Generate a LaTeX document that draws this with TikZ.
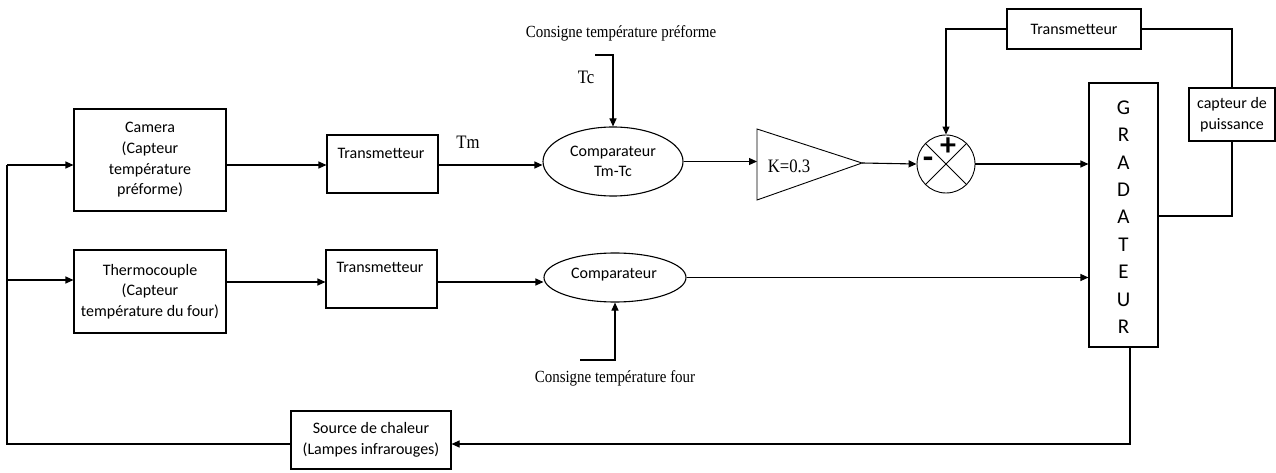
\documentclass[tikz,border=0pt]{standalone}
\usepackage{fontspec}
\setmainfont{Carlito}
\newfontfamily\serif[FakeStretch=0.88]{Liberation Serif}
\usetikzlibrary{shapes.geometric,arrows.meta,calc}
\begin{document}
\begin{tikzpicture}[x=1pt,y=-1pt,line width=1.1pt,
  >={Triangle[length=8pt,width=7pt]},
  txt/.style={font=\fontsize{16}{20.7}\selectfont,align=center,inner sep=0pt},
  stxt/.style={font=\serif\fontsize{17}{20}\selectfont,inner sep=0pt},
  sbig/.style={font=\serif\fontsize{19}{20}\selectfont,inner sep=0pt},
  box/.style={draw,rectangle,inner sep=0pt,txt},
  ell/.style={draw,ellipse,inner sep=0pt,txt}]
\useasboundingbox (0,0) rectangle (1276,473);

% blocks
\node[box,minimum width=152pt,minimum height=102pt] (cam) at (150,160)
  {Camera\\(Capteur\\température\\préforme)};
\node[box,minimum width=152pt,minimum height=83pt] (thermo) at (150,291.5)
  {Thermocouple\\(Capteur\\température du four)};
\node[box,minimum width=111pt,minimum height=58pt] (tr1) at (382.5,164) {};
\node[txt] (tr1t) at (381,153) {Transmetteur};
\node[box,minimum width=111pt,minimum height=58pt] (tr2) at (381.5,279) {};
\node[txt] (tr2t) at (380,267) {Transmetteur};
\node[ell,minimum width=140pt,minimum height=69pt] (cmp1) at (613,161.5)
  {Comparateur\\Tm-Tc};
\node[ell,minimum width=142pt,minimum height=49pt] (cmp2) at (615,277.5) {};
\node[txt] (cmp2t) at (614,275) {Comparateur};
\node[box,minimum width=69pt,minimum height=264pt] (grad) at (1123.5,215) {};
\node[txt,font=\fontsize{21}{27.4}\selectfont] (gradt) at (1123.5,217)
  {G\\R\\A\\D\\A\\T\\E\\U\\R};
\node[box,minimum width=134pt,minimum height=40pt] (tr3) at (1074,29) {Transmetteur};
\node[box,minimum width=86pt,minimum height=53pt] (capt) at (1232,114.5)
  {capteur de\\puissance};
\node[box,minimum width=160pt,minimum height=58pt] (src) at (371,440)
  {Source de chaleur\\(Lampes infrarouges)};

% gain block
\coordinate (ampA) at (757,129);
\coordinate (ampB) at (757,200);
\coordinate (ampC) at (862,163);
\draw[line width=0.9pt] (ampA) -- (ampB) -- (ampC) -- cycle;
\node[sbig] (gain) at (789,166) {K=0.3};

% summing junction
\node[draw,circle,minimum size=58pt,inner sep=0pt,line width=0.9pt] (sum) at (946,164) {};
\draw[line width=0.8pt] (sum.135) -- (sum.-45) (sum.45) -- (sum.-135);
\node[font=\bfseries\fontsize{32}{32}\selectfont,inner sep=0pt] (plus) at (948,147) {+};
\node[font=\bfseries\fontsize{34}{34}\selectfont,inner sep=0pt] (minus) at (928,163) {-};

% labels
\node[sbig] (tm) at (468,142) {Tm};
\node[sbig] (tc) at (586,77) {Tc};
\node[stxt] (cpref) at (621,33) {Consigne température préforme};
\node[stxt] (cfour) at (615,378) {Consigne température four};

% left bus
\coordinate (busT) at (7,165);
\coordinate (busM) at (7,280);
\coordinate (busB) at (7,444);
\draw[->] (busT) -- (cam.west |- busT);
\draw[->] (busM) -- (thermo.west |- busM);
\draw (src.west |- busB) -- (busB) -- (busT);

% upper chain
\draw[->] (cam.east |- busT) -- (tr1.west |- busT);
\draw[->] (tr1.east |- busT) -- (cmp1.west |- busT);
\coordinate (tcS) at (595,55);
\draw[->] (tcS) -- (cmp1.north |- tcS) -- (cmp1.north);
\draw[->] (cmp1.east) -- (ampA |- cmp1.east);
\draw[->] (ampC) -- (sum.west);
\draw[->] (sum.east) -- (grad.west |- sum.east);
\draw[->] (tr3.west) -| (sum.north);
\draw (tr3.east) -| (capt.north);
\coordinate (gradO) at (1158,216);
\draw (capt.south) |- (gradO);

% lower chain
\coordinate (lowY) at (0,282);
\draw[->] (thermo.east |- lowY) -- (tr2.west |- lowY);
\draw[->] (tr2.east |- lowY) -- (cmp2.west |- lowY);
\draw[->] (cmp2.east) -- (grad.west |- cmp2.east);
\coordinate (cfS) at (580,360);
\draw[->] (cfS) -- (cmp2.south |- cfS) -- (cmp2.south);
\coordinate (gradB) at (1130,347);
\draw[->] (gradB) |- (src.east |- busB);
\end{tikzpicture}
\end{document}
